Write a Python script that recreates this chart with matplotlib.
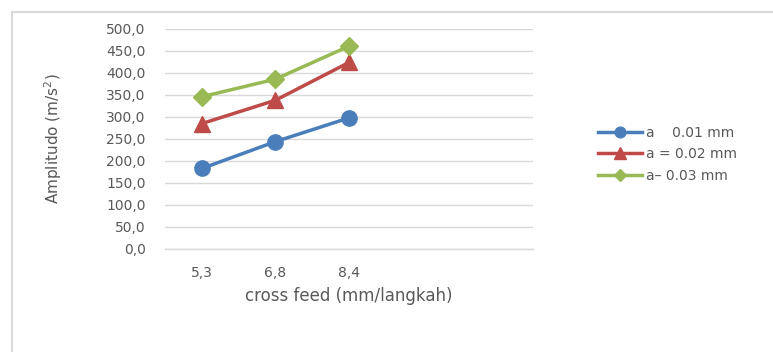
import matplotlib.pyplot as plt
from matplotlib.patches import Rectangle

# Daten
kategorien = ["5,3", "6,8", "8,4"]
a_001 = [183, 244, 298]
a_002 = [285, 338, 424]
a_003 = [346, 386, 461]
legende = ["a    0.01 mm", "a = 0.02 mm", "a\u2013 0.03 mm"]

textfarbe = "#595959"
plt.rcParams["font.family"] = ["DejaVu Sans"]

fig = plt.figure(figsize=(7.73, 3.52), dpi=100)
ax = fig.add_axes([165 / 773, 1 - 249 / 352, 368 / 773, 220 / 352])

x = list(range(len(kategorien)))
ax.plot(x, a_001, color="#4a7ebb", marker="o", markersize=11, linewidth=2.5, label=legende[0])
ax.plot(x, a_002, color="#be4b48", marker="^", markersize=12, linewidth=2.5, label=legende[1])
ax.plot(x, a_003, color="#98b954", marker="D", markersize=9, linewidth=2.5, label=legende[2])

# Excel-Achse mit 5 Kategorien, davon 2 leer
ax.set_xlim(-0.5, 4.5)
ax.set_ylim(0, 500)
ax.set_xticks(x)
ax.set_xticklabels(kategorien)
ax.set_yticks(range(0, 501, 50))
ax.set_yticklabels([f"{v},0" for v in range(0, 501, 50)])
ax.tick_params(axis="both", length=0, labelsize=10, labelcolor=textfarbe)
ax.tick_params(axis="y", pad=14)
ax.tick_params(axis="x", pad=12)
ax.grid(axis="y", color="#d9d9d9", linewidth=1)
ax.axhline(0, color="#d9d9d9", linewidth=1, clip_on=False, zorder=0)
ax.set_axisbelow(True)
for s in ax.spines.values():
    s.set_visible(False)

ax.set_xlabel("cross feed (mm/langkah)", fontsize=12, color=textfarbe, labelpad=5)
ax.set_ylabel("Amplitudo (m/s$^2$)", fontsize=11, color=textfarbe, labelpad=30)

fig.legend(loc="upper left", bbox_to_anchor=(585 / 773, 1 - 113 / 352), frameon=False,
           fontsize=10, labelcolor=textfarbe, handlelength=3.2, handletextpad=0.3,
           labelspacing=0.55, markerscale=0.7)

# Rahmen des Diagramms
fig.patches.append(Rectangle((12 / 773, -0.1), 1.0, 1 - 12 / 352 + 0.1, transform=fig.transFigure,
                             fill=False, edgecolor="#d9d9d9", linewidth=1.5))

fig.savefig("out.png", dpi=100)
